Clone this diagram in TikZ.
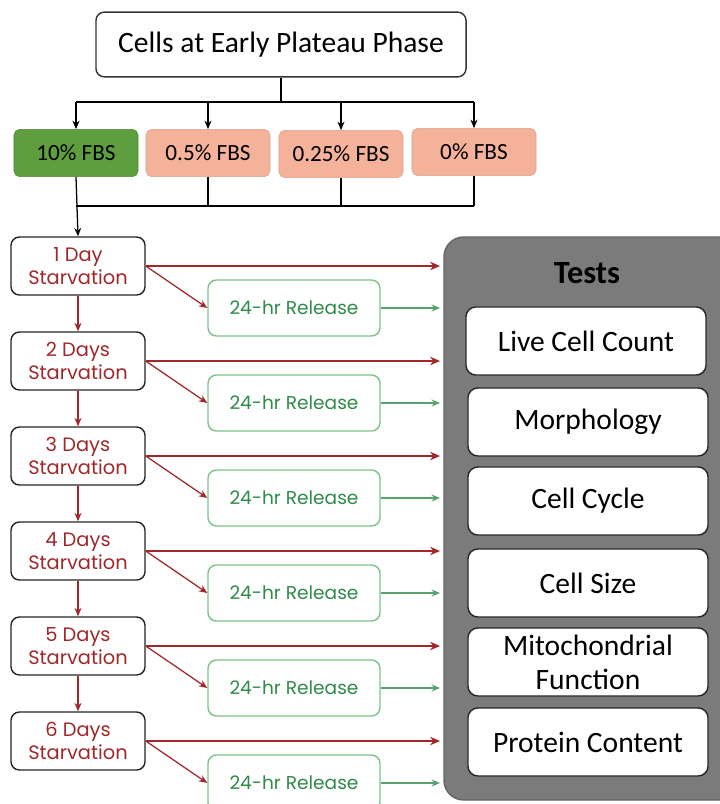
\documentclass[tikz,border=0pt]{standalone}
\usepackage{fontspec}
\setmainfont{Carlito}
\newfontfamily\gothfont{Poppins}
\usetikzlibrary{positioning,arrows.meta}

\definecolor{fbsgreen}{HTML}{5E9E3E}
\definecolor{fbssalmon}{HTML}{F4B29B}
\definecolor{starvred}{HTML}{A0282B}
\definecolor{relgreen}{HTML}{2E8B4A}
\definecolor{relline}{HTML}{7CC48A}
\definecolor{panelgray}{HTML}{7B7B7B}

\tikzset{
  startbox/.style={draw=black!80, line width=1pt, rounded corners=6pt, fill=white,
    minimum width=9.25cm, minimum height=1.62cm, font=\fontsize{21}{24}\selectfont},
  fbsbox/.style={rounded corners=4pt, minimum width=3.1cm, minimum height=1.18cm,
    font=\fontsize{16.5}{19}\selectfont},
  daybox/.style={draw=black!85, line width=1pt, rounded corners=6pt, fill=white,
    minimum width=3.35cm, minimum height=1.45cm, align=center, text=starvred,
    font=\gothfont\fontsize{13.8}{16}\selectfont, inner sep=1pt},
  relbox/.style={draw=relline, line width=1pt, rounded corners=6pt, fill=white,
    minimum width=4.3cm, minimum height=1.4cm, text=relgreen,
    font=\gothfont\fontsize{13.2}{15}\selectfont},
  testbox/.style={draw=black!85, line width=1pt, rounded corners=7pt, fill=white,
    minimum width=6cm, minimum height=1.7cm, align=center,
    font=\fontsize{21}{24}\selectfont},
  blackarrow/.style={-{Stealth[length=6pt,width=5pt]}, line width=0.9pt},
  redarrow/.style={-{Stealth[length=7pt,width=6pt]}, draw=starvred, line width=1.3pt},
  reddiag/.style={-{Stealth[length=6pt,width=5pt]}, draw=starvred, line width=0.9pt},
  greenarrow/.style={-{Stealth[length=6pt,width=5pt]}, draw=relgreen!80, line width=0.9pt},
}

\begin{document}
\begin{tikzpicture}[x=0.025cm, y=-0.025cm]
  \useasboundingbox (0,0) rectangle (720,804);
  % Tests panel
  \fill[panelgray, draw=black!60, line width=1pt, rounded corners=14pt] (444,237) rectangle (745,800);
  \node[font=\bfseries\fontsize{23}{26}\selectfont] (tests) at (587,273) {Tests};
  % Start node and serum levels
  \node[startbox] (start) at (281,44.5) {Cells at Early Plateau Phase};
  \node[fbsbox, fill=fbsgreen, draw=fbsgreen!85!black] (fbs1) at (76,153) {10\% FBS};
  \node[fbsbox, fill=fbssalmon, draw=fbssalmon!90!black] (fbs2) at (208,153) {0.5\% FBS};
  \node[fbsbox, fill=fbssalmon, draw=fbssalmon!90!black] (fbs3) at (341,154) {0.25\% FBS};
  \node[fbsbox, fill=fbssalmon, draw=fbssalmon!90!black] (fbs4) at (474,152) {0\% FBS};
  % Split bus
  \coordinate (split) at (281,102);
  \draw[line width=0.9pt] (start.south) -- (split);
  \draw[line width=0.9pt] (fbs1.north |- split) -- (fbs4.north |- split);
  \foreach \i in {1,...,4}
    \draw[blackarrow] (fbs\i.north |- split) -- (fbs\i.north);
  % Join bus
  \coordinate (join) at (281,206);
  \foreach \i in {2,3,4}
    \draw[line width=0.9pt] (fbs\i.south) -- (fbs\i.south |- join);
  \draw[line width=0.9pt] (fbs1.south |- join) -- (fbs4.south |- join);
  % Starvation days and releases
  \foreach \k/\lab in {1/1 Day,2/2 Days,3/3 Days,4/4 Days,5/5 Days,6/6 Days}{
    \node[daybox] (day\k) at (78,{266+95*(\k-1)}) {\lab\\Starvation};
    \node[relbox] (rel\k) at (294,{308+95*(\k-1)}) {24-hr Release};
    \coordinate (dayend\k) at (440,{266+95*(\k-1)});
    \coordinate (relend\k) at (440,{308+95*(\k-1)});
    \draw[redarrow] (day\k.east) -- (dayend\k);
    \draw[reddiag] (day\k.east) -- (rel\k.west);
    \draw[greenarrow] (rel\k.east) -- (relend\k);
  }
  \draw[blackarrow] (fbs1.south) -- (day1.north);
  \foreach \k [evaluate=\k as \n using int(\k+1)] in {1,...,5}
    \draw[reddiag] (day\k.south) -- (day\n.north);
  % Tests
  \node[testbox] (count) at (586,341) {Live Cell Count};
  \node[testbox] (morph) at (588,422) {Morphology};
  \node[testbox] (cycle) at (588,501) {Cell Cycle};
  \node[testbox] (size)  at (588,583) {Cell Size};
  \node[testbox] (mito)  at (588,662) {Mitochondrial\\Function};
  \node[testbox] (prot)  at (588,742) {Protein Content};
\end{tikzpicture}
\end{document}
